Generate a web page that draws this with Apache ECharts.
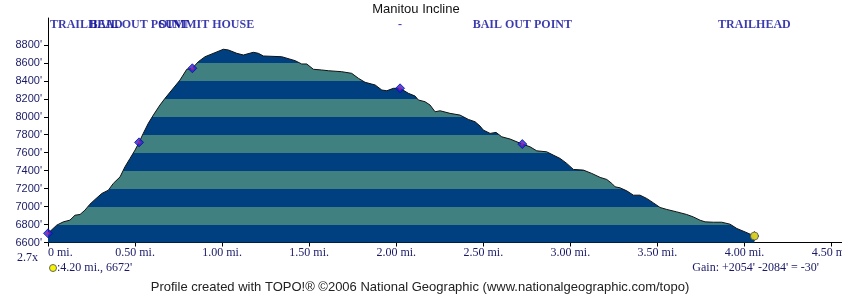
<!DOCTYPE html>
<html><head><meta charset="utf-8">
<script src="https://cdn.jsdelivr.net/npm/echarts@6/dist/echarts.min.js"></script>
<style>html,body{margin:0;padding:0;background:#fff}#c{width:842px;height:296px}</style>
</head><body><div id="c"></div>
<script>
// Profile: distance (mi) and elevation (ft)
const distMi = [0,0.05,0.088,0.126,0.155,0.184,0.212,0.241,0.270,0.309,0.347,0.375,0.414,0.442,0.471,0.500,0.523,0.547,0.576,0.605,0.643,0.672,0.711,0.758,0.797,0.829,0.863,0.902,0.959,1.007,1.036,1.084,1.122,1.179,1.208,1.237,1.342,1.419,1.457,1.486,1.524,1.572,1.610,1.687,1.744,1.783,1.821,1.879,1.917,1.946,1.984,2.022,2.070,2.108,2.127,2.165,2.194,2.223,2.252,2.309,2.366,2.414,2.453,2.481,2.500,2.539,2.573,2.606,2.654,2.724,2.768,2.807,2.864,2.902,2.941,2.979,3.017,3.075,3.123,3.171,3.209,3.238,3.257,3.285,3.324,3.362,3.400,3.438,3.477,3.515,3.554,3.611,3.668,3.706,3.745,3.774,3.821,3.869,3.917,3.956,4.003,4.057];
const elevFt = [6702,6793,6830,6849,6904,6912,6960,7027,7079,7146,7183,7258,7331,7443,7536,7629,7715,7815,7927,8019,8131,8205,8298,8409,8529,8540,8613,8669,8714,8752,8744,8707,8688,8718,8707,8677,8669,8625,8588,8588,8529,8521,8513,8502,8484,8428,8384,8354,8298,8290,8317,8317,8261,8231,8187,8168,8131,8056,8067,8038,8019,7971,7944,7897,7852,7815,7826,7777,7752,7696,7666,7621,7610,7573,7536,7481,7414,7406,7369,7325,7302,7258,7220,7209,7175,7127,7127,7091,7041,6990,6968,6941,6912,6885,6848,6830,6826,6826,6804,6756,6718,6672];

// Waypoints
const wpNames = ['TRAILHEAD','BAIL OUT POINT','SUMMIT HOUSE','-','BAIL OUT POINT','TRAILHEAD'];
const wpDist = [0,0.523,0.829,2.022,2.724,4.057];
const wpElev = [6702,7715,8540,8317,7696,6672];

// Cursor
const cursorDist = [4.057];
const cursorElev = [6672];

// Axes
const yTicks = [6600,6800,7000,7200,7400,7600,7800,8000,8200,8400,8600,8800];
const xTicks = [0,0.5,1.0,1.5,2.0,2.5,3.0,3.5,4.0,4.5];
const bandEdges = [6600,6800,7000,7200,7400,7600,7800,8000,8200,8400,8600,8800,9000,9200];

const DARK = '#004080', TEAL = '#408080', NAVY = '#1a1a66';
const Y_MIN = 6600, Y_MAX = 9100, X_MIN = 0, X_MAX = 4.56;
const LABEL_ROW = 9022;

const pieces = [];
for (let i = 0; i < bandEdges.length - 1; i++) {
  pieces.push({gte: bandEdges[i], lt: bandEdges[i+1], color: i % 2 === 0 ? DARK : TEAL});
}

function labelStyleFor(i, d) {
  if (d === X_MIN) return {align: 'left', offset: [2, 0]};
  if (wpNames[i] === 'SUMMIT HOUSE') return {offset: [14, 0]};
  return {};
}

const chart = echarts.init(document.getElementById('c'), null, {renderer: 'canvas'});
chart.setOption({
  animation: false,
  grid: {left: 48, top: 18, right: 0, bottom: 53.5, containLabel: false, outerBoundsMode: 'none'},
  visualMap: {type: 'piecewise', show: false, dimension: 1, seriesIndex: 0, pieces: pieces},
  xAxis: {
    type: 'value', min: X_MIN, max: X_MAX,
    axisLine: {show: true, lineStyle: {color: '#000', width: 1}},
    axisTick: {show: true, length: 4, customValues: xTicks, lineStyle: {color: '#000'}},
    axisLabel: {customValues: xTicks, margin: 4, color: NAVY, fontFamily: 'Liberation Serif', fontSize: 12,
      alignMinLabel: 'left', hideOverlap: false,
      formatter: v => v === 0 ? '0 mi.' : v.toFixed(2) + ' mi.'},
    splitLine: {show: false}
  },
  yAxis: {
    type: 'value', min: Y_MIN, max: Y_MAX,
    axisLine: {show: true, lineStyle: {color: '#000', width: 1}},
    axisTick: {show: true, length: 4, customValues: yTicks, lineStyle: {color: '#000'}},
    axisLabel: {customValues: yTicks, margin: 6, color: NAVY, fontFamily: 'Liberation Sans', fontSize: 11,
      formatter: v => v + "'"},
    splitLine: {show: false}
  },
  series: [
    {
      type: 'line', data: distMi.map((d, i) => [d, elevFt[i]]),
      showSymbol: false, symbol: 'none', z: 2,
      lineStyle: {color: '#111', width: 1},
      areaStyle: {opacity: 1, origin: 'start'}
    },
    {
      type: 'scatter', z: 4, symbol: 'diamond', symbolSize: 9, silent: true,
      data: wpDist.map((d, i) => [d, wpElev[i]]),
      itemStyle: {color: '#2020e6', borderColor: '#10108a', borderWidth: 1}
    },
    {
      type: 'scatter', z: 5, symbol: 'circle', symbolSize: 3, silent: true,
      data: wpDist.map((d, i) => [d, wpElev[i]]),
      itemStyle: {color: '#c8206e'}
    },
    {
      type: 'scatter', z: 6, symbol: 'circle', symbolSize: 8, silent: true,
      data: cursorDist.map((d, i) => [d, cursorElev[i]]),
      itemStyle: {color: '#f4f400', borderColor: '#555', borderWidth: 1}
    },
    {
      type: 'scatter', z: 7, symbolSize: 0, silent: true,
      data: wpDist.map((d, i) => ({
        value: [d, LABEL_ROW], name: wpNames[i], label: labelStyleFor(i, d)
      })),
      label: {show: true, position: 'inside', formatter: p => p.name,
        fontFamily: 'Liberation Serif', fontWeight: 'bold', fontSize: 12, color: '#0a0a9a'}
    }
  ],
  graphic: [
    {type: 'text', x: 416, y: 9, style: {text: 'Manitou Incline', textAlign: 'center', textVerticalAlign: 'middle', font: '13px "Liberation Sans"', fill: '#111'}},
    {type: 'text', x: 38, y: 258, style: {text: '2.7x', textAlign: 'right', textVerticalAlign: 'middle', font: '12px "Liberation Serif"', fill: NAVY}},
    {type: 'circle', shape: {cx: 53, cy: 268, r: 3.5}, style: {fill: '#f4f400', stroke: '#666', lineWidth: 1}},
    {type: 'text', x: 57, y: 268, style: {text: ":4.20 mi., 6672'", textAlign: 'left', textVerticalAlign: 'middle', font: '12px "Liberation Serif"', fill: NAVY}},
    {type: 'text', x: 819, y: 268, style: {text: "Gain: +2054' -2084' = -30'", textAlign: 'right', textVerticalAlign: 'middle', font: '12px "Liberation Serif"', fill: NAVY}},
    {type: 'text', x: 420, y: 287, style: {text: 'Profile created with TOPO!\u00ae \u00a92006 National Geographic (www.nationalgeographic.com/topo)', textAlign: 'center', textVerticalAlign: 'middle', font: '13px "Liberation Sans"', fill: '#222'}}
  ]
});
</script>
</body></html>
